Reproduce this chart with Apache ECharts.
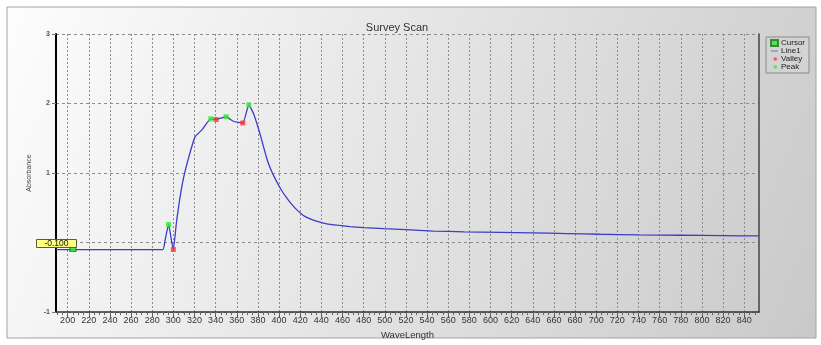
<!DOCTYPE html>
<html>
<head>
<meta charset="utf-8">
<script src="https://cdn.jsdelivr.net/npm/echarts@6/dist/echarts.min.js"></script>
<style>
  html, body { margin: 0; padding: 0; background: #ffffff; }
  #chart { width: 821px; height: 345px; }
</style>
</head>
<body>
<div id="chart"></div>
<script>
// Survey scan: absorbance against wavelength (nm)
const wavelengthRange = [189, 854];
const absorbanceRange = [-1, 3];
const xTickLabels = [200, 220, 240, 260, 280, 300, 320, 340, 360, 380, 400, 420, 440, 460, 480, 500,
  520, 540, 560, 580, 600, 620, 640, 660, 680, 700, 720, 740, 760, 780, 800, 820, 840];

const scanWavelength = [189, 290, 292, 295.5, 298, 300, 303, 306, 309.5, 315, 320.5, 327, 335.4, 340.4,
  345, 349.9, 356.8, 365.7, 371.4, 376, 380.5, 384, 388.4, 392, 396.3, 402, 407.4, 412, 416.9, 423,
  429.5, 437, 445, 455, 467, 480, 499, 520, 546, 575, 609, 640, 672, 704, 740, 780, 820, 854];
const scanAbsorbance = [-0.1, -0.1, 0.02, 0.26, 0.05, -0.1, 0.3, 0.62, 0.92, 1.25, 1.52, 1.62, 1.78, 1.77,
  1.79, 1.81, 1.745, 1.72, 1.98, 1.85, 1.64, 1.45, 1.21, 1.06, 0.92, 0.76, 0.64, 0.55, 0.47, 0.39,
  0.34, 0.3, 0.27, 0.25, 0.23, 0.215, 0.2, 0.185, 0.166, 0.155, 0.147, 0.14, 0.13, 0.12, 0.11, 0.105, 0.1, 0.095];

const peakWavelength = [295.5, 335.4, 349.9, 371.4];
const peakAbsorbance = [0.26, 1.78, 1.81, 1.98];
const valleyWavelength = [300, 340.4, 365.7];
const valleyAbsorbance = [-0.1, 1.77, 1.72];
const cursorWavelength = [205];
const cursorAbsorbance = [-0.1];
const cursorText = '-0.100';

const pairs = (xs, ys) => xs.map((x, i) => [x, ys[i]]);
const minorTicks = [];
for (let w = 190; w <= 850; w += 5) minorTicks.push(w);

const FONT = '"Liberation Sans", Arial, sans-serif';
const SMALL_MARK = 'path://M2.5,2.5 L7.5,2.5 L7.5,7.5 L2.5,7.5 Z M0,0 L0.01,0 L0.01,10 L0,10 Z';
const chart = echarts.init(document.getElementById('chart'), null, { renderer: 'canvas' });

chart.setOption({
  animation: false,
  backgroundColor: '#ffffff',
  textStyle: { fontFamily: FONT },
  graphic: [
    {
      type: 'rect', z: -10, silent: true,
      shape: { x: 7, y: 7, width: 809, height: 331 },
      style: {
        fill: new echarts.graphic.LinearGradient(0, 0, 1, 1, [
          { offset: 0, color: '#fdfdfd' },
          { offset: 1, color: '#c9c9c9' }
        ]),
        stroke: '#a2a2a2', lineWidth: 1
      }
    },
    {
      type: 'group', left: 36, top: 239, z: 100,
      children: [
        { type: 'rect', z: 100, shape: { x: 0, y: 0, width: 40, height: 8 },
          style: { fill: '#ffff80', stroke: '#5a5a40', lineWidth: 1 } },
        { type: 'text', z: 101, x: 20, y: 4.5,
          style: { text: cursorText, fill: '#111', font: '8.5px ' + FONT, align: 'center', verticalAlign: 'middle' } }
      ]
    }
  ],
  title: {
    text: 'Survey Scan',
    left: 392, top: 17, textAlign: 'center',
    textStyle: { fontSize: 11, fontWeight: 'normal', color: '#333', fontFamily: FONT }
  },
  legend: {
    orient: 'vertical', left: 766, top: 37,
    padding: [2, 4, 2, 4], itemGap: 0,
    itemWidth: 7, itemHeight: 6,
    backgroundColor: '#d3d3d3', borderColor: '#8a8a8a', borderWidth: 1,
    textStyle: { fontSize: 8, color: '#222', fontFamily: FONT, padding: [0, 0, 0, -2] },
    data: [
      'Cursor',
      { name: 'Line1', icon: 'path://M0,0 L10,0 L10,1.4 L0,1.4 Z', itemStyle: { color: '#6a6ad8' } },
      { name: 'Valley', icon: SMALL_MARK },
      { name: 'Peak', icon: SMALL_MARK }
    ]
  },
  grid: { left: 56, right: 62, top: 34, bottom: 30, containLabel: false },
  xAxis: [
    {
      type: 'value', position: 'bottom',
      min: wavelengthRange[0], max: wavelengthRange[1],
      name: 'WaveLength', nameLocation: 'middle', nameGap: 11,
      nameTextStyle: { fontSize: 9.5, color: '#333', fontFamily: FONT },
      axisLine: { show: true, onZero: false, lineStyle: { color: '#333', width: 1.5 } },
      axisTick: { show: true, customValues: xTickLabels, length: 5, lineStyle: { color: '#555' } },
      axisLabel: { customValues: xTickLabels, fontSize: 9, color: '#333', margin: 4, fontFamily: FONT },
      splitLine: { show: true, lineStyle: { color: '#8c8c8c', type: [2, 2], width: 1 } }
    },
    {
      type: 'value', position: 'bottom',
      min: wavelengthRange[0], max: wavelengthRange[1],
      axisLine: { show: false, onZero: false },
      axisTick: { show: true, customValues: minorTicks, length: 3, lineStyle: { color: '#666' } },
      axisLabel: { show: false },
      splitLine: { show: false }
    }
  ],
  yAxis: [
    {
      type: 'value', position: 'left',
      min: absorbanceRange[0], max: absorbanceRange[1], interval: 1,
      name: 'Absorbance', nameLocation: 'middle', nameGap: 20, nameRotate: 90,
      nameTextStyle: { fontSize: 7, color: '#444', fontFamily: FONT },
      axisLine: { show: true, onZero: false, lineStyle: { color: '#000', width: 2 } },
      axisTick: { show: true, length: 4, lineStyle: { color: '#777' } },
      axisLabel: {
        fontSize: 7, fontWeight: 'bold', color: '#555', margin: 6,
        formatter: v => (v === 0 ? '' : String(v))
      },
      splitLine: { show: true, lineStyle: { color: '#8c8c8c', type: [3, 3], width: 1 } }
    },
    {
      type: 'value', position: 'right',
      min: absorbanceRange[0], max: absorbanceRange[1], interval: 1,
      axisLine: { show: true, onZero: false, lineStyle: { color: '#444', width: 1.5 } },
      axisTick: { show: false }, axisLabel: { show: false }, splitLine: { show: false }
    }
  ],
  series: [
    {
      name: 'Line1', type: 'line', xAxisIndex: 0, yAxisIndex: 0,
      data: pairs(scanWavelength, scanAbsorbance),
      showSymbol: false, symbol: 'none', smooth: 0.15,
      lineStyle: { color: '#3c3cc8', width: 1.3 },
      itemStyle: { color: '#6a6ad8' }, z: 3
    },
    {
      name: 'Valley', type: 'scatter', xAxisIndex: 0, yAxisIndex: 0,
      data: pairs(valleyWavelength, valleyAbsorbance),
      symbol: 'rect', symbolSize: 5,
      itemStyle: { color: '#ff3030' }, z: 4
    },
    {
      name: 'Peak', type: 'scatter', xAxisIndex: 0, yAxisIndex: 0,
      data: pairs(peakWavelength, peakAbsorbance),
      symbol: 'rect', symbolSize: 5,
      itemStyle: { color: '#33e833' }, z: 4
    },
    {
      name: 'Cursor', type: 'scatter', xAxisIndex: 0, yAxisIndex: 0,
      data: pairs(cursorWavelength, cursorAbsorbance),
      symbol: 'rect', symbolSize: [6, 4],
      itemStyle: { color: '#33e833', borderColor: '#1a7a1a', borderWidth: 1 }, z: 5
    }
  ]
});
</script>
</body>
</html>
